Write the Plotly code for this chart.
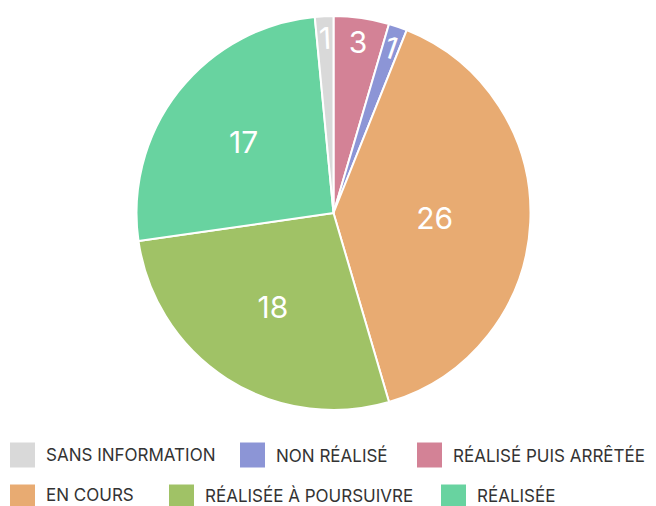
import plotly.graph_objects as go

# Slices in clockwise drawing order, starting at 12 o'clock
labels = ["RÉALISÉ PUIS ARRÊTÉE", "NON RÉALISÉ", "EN COURS",
          "RÉALISÉE À POURSUIVRE", "RÉALISÉE", "SANS INFORMATION"]
values = [3, 1, 26, 18, 17, 1]
colors = ["#D38296", "#8C95D6", "#E8AB72", "#A0C266", "#68D3A0", "#D9D9D9"]

# Legend entries, in reading order (two rows)
legend_rows = [
    ["SANS INFORMATION", "NON RÉALISÉ", "RÉALISÉ PUIS ARRÊTÉE"],
    ["EN COURS", "RÉALISÉE À POURSUIVRE", "RÉALISÉE"],
]
legend_x = [[10, 240, 417], [10, 169, 441]]
legend_y = [455, 497]

FONT = "Inter"
W, H = 656, 506
PLOT_H = H - 16 - 96


def py(y_px):
    """Pixel row (from top of page) -> paper coordinate."""
    return (H - 96 - y_px) / PLOT_H


fig = go.Figure(go.Pie(
    labels=labels,
    values=values,
    sort=False,
    direction="clockwise",
    rotation=0,
    marker=dict(colors=colors, line=dict(color="white", width=2)),
    textinfo="value",
    textposition="inside",
    insidetextfont=dict(color="white", size=30, family=FONT),
    showlegend=False,
    hoverinfo="label+value+percent",
))

color_of = dict(zip(labels, colors))
shapes, annotations = [], []
for row, xs, yc in zip(legend_rows, legend_x, legend_y):
    for name, x0 in zip(row, xs):
        shapes.append(dict(
            type="rect", xref="paper", yref="paper",
            x0=(x0 - 11) / 645, x1=(x0 + 14) / 645,
            y0=py(yc + 12.5), y1=py(yc - 12.5),
            fillcolor=color_of[name], line=dict(width=0),
        ))
        annotations.append(dict(
            text=name, xref="paper", yref="paper",
            x=(x0 + 24) / 645, y=py(min(yc, 495)),
            xanchor="left", yanchor="middle", showarrow=False,
            borderpad=0,
            font=dict(family=FONT, size=17, color="#333333"),
        ))

fig.update_layout(
    width=W, height=H,
    margin=dict(l=11, r=0, t=16, b=96),
    paper_bgcolor="white", plot_bgcolor="white",
    shapes=shapes, annotations=annotations,
    font=dict(family=FONT),
)

fig.write_html("out.html")
